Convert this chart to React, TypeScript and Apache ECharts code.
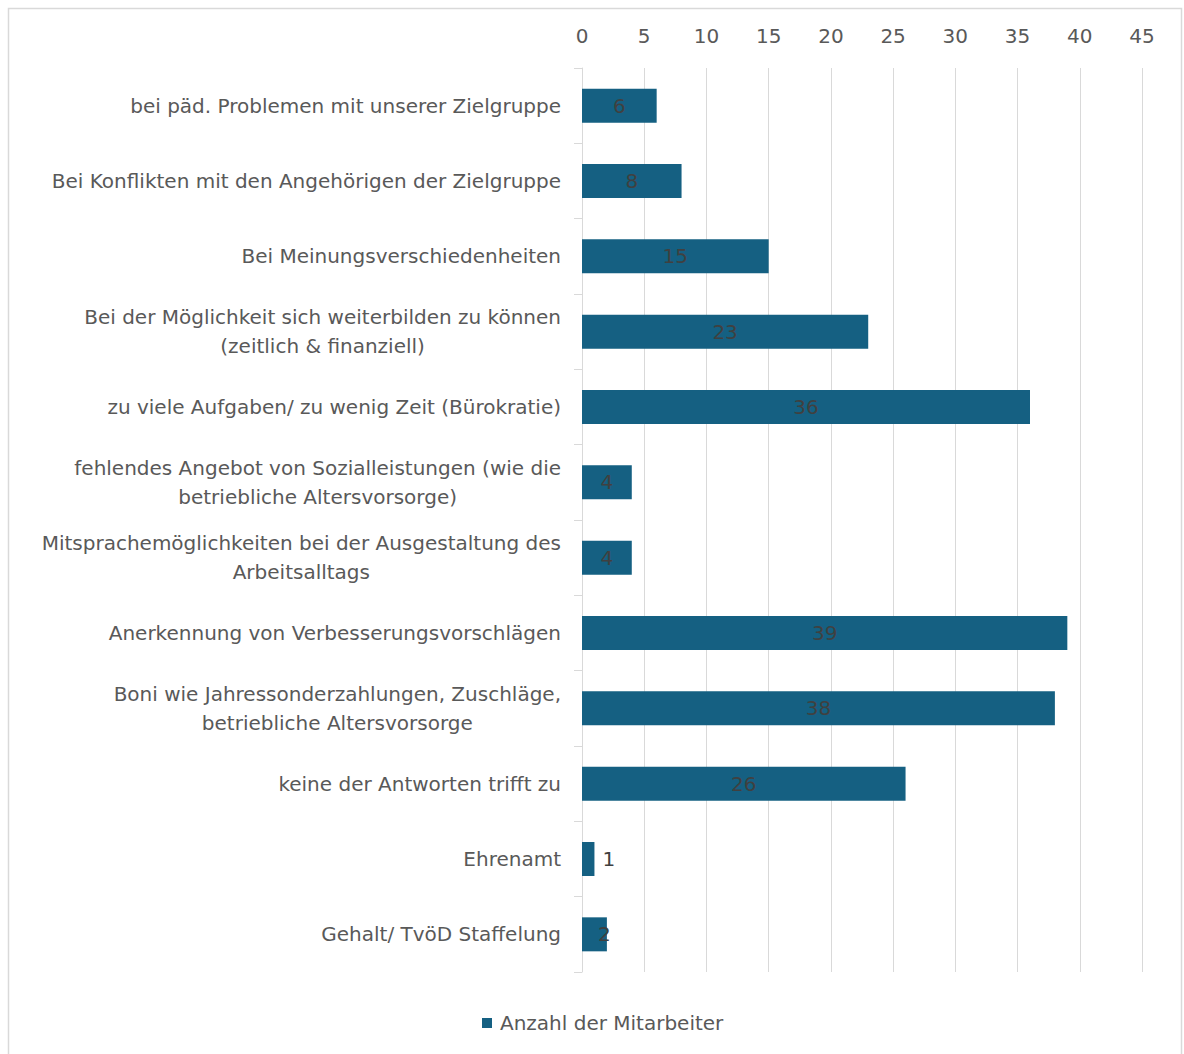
import React, { useEffect, useRef } from "react";
import * as echarts from "echarts";

const categories: string[] = [
  "bei päd. Problemen mit unserer Zielgruppe",
  "Bei Konflikten mit den Angehörigen der Zielgruppe",
  "Bei Meinungsverschiedenheiten",
  "Bei der Möglichkeit sich weiterbilden zu können\n(zeitlich & finanziell)",
  "zu viele Aufgaben/ zu wenig Zeit (Bürokratie)",
  "fehlendes Angebot von Sozialleistungen (wie die\nbetriebliche Altersvorsorge)",
  "Mitsprachemöglichkeiten bei der Ausgestaltung des\nArbeitsalltags",
  "Anerkennung von Verbesserungsvorschlägen",
  "Boni wie Jahressonderzahlungen, Zuschläge,\nbetriebliche Altersvorsorge",
  "keine der Antworten trifft zu",
  "Ehrenamt",
  "Gehalt/ TvöD Staffelung",
];

const values: number[] = [6, 8, 15, 23, 36, 4, 4, 39, 38, 26, 1, 2];

const seriesName = "Anzahl der Mitarbeiter";
const axisMin = 0;
const axisMax = 45;
const axisStep = 5;

const FONT = "DejaVu Sans";
const BAR = "#156082";

export default function App() {
  const ref = useRef<HTMLDivElement>(null);
  useEffect(() => {
    if (!ref.current) return;
    const chart = echarts.init(ref.current, undefined, { renderer: "svg" });
    const data = values.map((v) => {
      if (v === 1) {
        return { value: v, label: { position: "right", distance: 8 } };
      }
      if (v === 2) {
        return { value: v, label: { position: "inside", offset: [10, 0] } };
      }
      return { value: v };
    });
    chart.setOption({
      animation: false,
      backgroundColor: "#ffffff",
      textStyle: { fontFamily: FONT },
      graphic: [
        {
          type: "rect",
          shape: { x: 8.5, y: 8.5, width: 1173, height: 1070 },
          style: { fill: "none", stroke: "#d9d9d9", lineWidth: 1.5 },
          silent: true,
        },
      ],
      grid: { left: 582, right: 42, top: 68, bottom: 82, containLabel: false },
      legend: {
        bottom: 16,
        left: 477,
        icon: "rect",
        itemWidth: 10,
        itemHeight: 10,
        itemGap: 8,
        textStyle: { fontFamily: FONT, fontSize: 20, color: "#595959", padding: [0, 0, 0, 3] },
        data: [seriesName],
      },
      xAxis: {
        type: "value",
        position: "top",
        min: axisMin,
        max: axisMax,
        interval: axisStep,
        axisLine: { show: false },
        axisTick: { show: false },
        axisLabel: { fontFamily: FONT, fontSize: 20, color: "#595959", margin: 22 },
        splitLine: { show: true, lineStyle: { color: "#d9d9d9", width: 1 } },
      },
      yAxis: {
        type: "category",
        inverse: true,
        data: categories,
        axisLine: { show: true, lineStyle: { color: "#d9d9d9", width: 1 } },
        axisTick: { show: true, length: 8, lineStyle: { color: "#d9d9d9" } },
        axisLabel: {
          margin: 21,
          color: "#595959",
          fontFamily: FONT,
          fontSize: 20,
          lineHeight: 29,
          formatter: (val: string) =>
            val
              .split("\n")
              .map((l) => "{c|" + l + "}")
              .join("\n"),
          rich: {
            c: {
              align: "center",
              fontFamily: FONT,
              fontSize: 20,
              lineHeight: 29,
              color: "#595959",
            },
          },
        },
      },
      series: [
        {
          name: seriesName,
          type: "bar",
          data,
          barWidth: 34,
          itemStyle: { color: BAR },
          label: {
            show: true,
            position: "inside",
            color: "#404040",
            fontFamily: FONT,
            fontSize: 20,
          },
        },
      ],
    });
    return () => chart.dispose();
  }, []);
  return (
    <div
      ref={ref}
      style={{ position: "absolute", left: 0, top: 0, width: 1184, height: 1054 }}
    />
  );
}
